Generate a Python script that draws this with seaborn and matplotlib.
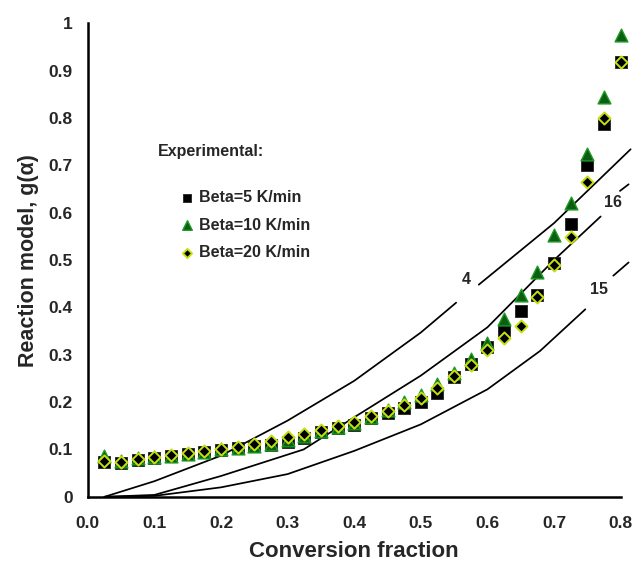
import matplotlib
matplotlib.use("Agg")
import matplotlib.pyplot as plt
import seaborn as sns
import pandas as pd

# Conversion fraction at which g(alpha) was evaluated
alpha = [0.025, 0.05, 0.075, 0.1, 0.125, 0.15, 0.175, 0.2, 0.225, 0.25,
         0.275, 0.3, 0.325, 0.35, 0.375, 0.4, 0.425, 0.45, 0.475, 0.5,
         0.525, 0.55, 0.575, 0.6, 0.625, 0.65, 0.675, 0.7, 0.725, 0.75,
         0.775, 0.8]

# Experimental g(alpha) at three heating rates
beta5 = [0.073, 0.071, 0.078, 0.083, 0.086, 0.091, 0.095, 0.099, 0.103, 0.107,
         0.110, 0.116, 0.124, 0.137, 0.146, 0.152, 0.166, 0.176, 0.188, 0.200,
         0.220, 0.252, 0.280, 0.317, 0.353, 0.393, 0.426, 0.494, 0.576, 0.700,
         0.787, 0.918]
beta10 = [0.086, 0.075, 0.081, 0.084, 0.087, 0.091, 0.095, 0.100, 0.104, 0.108,
          0.112, 0.121, 0.128, 0.139, 0.147, 0.156, 0.168, 0.183, 0.200, 0.216,
          0.238, 0.262, 0.292, 0.324, 0.375, 0.426, 0.475, 0.552, 0.620, 0.723,
          0.845, 0.975]
beta20 = [0.075, 0.073, 0.080, 0.084, 0.088, 0.093, 0.096, 0.100, 0.106, 0.111,
          0.117, 0.127, 0.132, 0.142, 0.149, 0.158, 0.170, 0.182, 0.194, 0.208,
          0.230, 0.255, 0.278, 0.311, 0.336, 0.361, 0.421, 0.489, 0.549, 0.665,
          0.799, 0.918]
series_labels = ["Beta=5 K/min", "Beta=10 K/min", "Beta=20 K/min"]

# Theoretical model curves (each split in two pieces around its label)
model4_a_x = [0.025, 0.1, 0.2, 0.3, 0.4, 0.5, 0.553]
model4_a_y = [0.0, 0.033, 0.087, 0.161, 0.245, 0.347, 0.410]
model4_b_x = [0.587, 0.7, 0.815]
model4_b_y = [0.448, 0.578, 0.734]

model16_a_x = [0.025, 0.1, 0.2, 0.324, 0.4, 0.5, 0.6, 0.7, 0.77]
model16_a_y = [0.0, 0.004, 0.044, 0.100, 0.168, 0.256, 0.358, 0.500, 0.592]
model16_b_x = [0.799, 0.812]
model16_b_y = [0.646, 0.660]

model15_a_x = [0.025, 0.1, 0.2, 0.3, 0.4, 0.5, 0.6, 0.679, 0.747]
model15_a_y = [0.0, 0.002, 0.020, 0.048, 0.097, 0.153, 0.227, 0.308, 0.396]
model15_b_x = [0.789, 0.812]
model15_b_y = [0.467, 0.495]

model_labels = ["4", "16", "15"]

x_ticks = [0.0, 0.1, 0.2, 0.3, 0.4, 0.5, 0.6, 0.7, 0.8]
x_tick_labels = ["0.0", "0.1", "0.2", "0.3", "0.4", "0.5", "0.6", "0.7", "0.8"]
y_ticks = [0, 0.1, 0.2, 0.3, 0.4, 0.5, 0.6, 0.7, 0.8, 0.9, 1.0]
y_tick_labels = ["0", "0.1", "0.2", "0.3", "0.4", "0.5", "0.6", "0.7", "0.8", "0.9", "1"]

sns.set_style("white")
plt.rcParams["font.family"] = ["Liberation Sans", "DejaVu Sans"]
plt.rcParams["font.weight"] = "bold"

fig = plt.figure(figsize=(6.32, 5.62), dpi=100)
ax = fig.add_axes([0.139, 0.116, 0.843, 0.8425])

# model curves
line_kw = dict(color="black", linewidth=1.25, estimator=None, sort=False,
               clip_on=False, legend=False)
for xs, ys in [(model4_a_x, model4_a_y), (model4_b_x, model4_b_y),
               (model16_a_x, model16_a_y), (model16_b_x, model16_b_y),
               (model15_a_x, model15_a_y), (model15_b_x, model15_b_y)]:
    sns.lineplot(x=xs, y=ys, ax=ax, **line_kw)

ax.text(0.568, 0.460, model_labels[0], fontsize=11.5, fontweight="bold",
        ha="center", va="center")
ax.text(0.788, 0.622, model_labels[1], fontsize=11.5, fontweight="bold",
        ha="center", va="center")
ax.text(0.768, 0.438, model_labels[2], fontsize=11.5, fontweight="bold",
        ha="center", va="center")

# experimental points
df = pd.DataFrame({"alpha": alpha, "b5": beta5, "b10": beta10, "b20": beta20})
sns.scatterplot(data=df, x="alpha", y="b5", ax=ax, marker="s", s=72,
                color="black", edgecolor="#222222", linewidth=0.6,
                label=series_labels[0], zorder=3, clip_on=False)
sns.scatterplot(data=df, x="alpha", y="b10", ax=ax, marker="^", s=85,
                color="#0b5e12", edgecolor="#1f9a24", linewidth=1.0,
                label=series_labels[1], zorder=4, clip_on=False)
sns.scatterplot(data=df, x="alpha", y="b20", ax=ax, marker="D", s=38,
                color="black", edgecolor="#c4e010", linewidth=1.4,
                label=series_labels[2], zorder=5, clip_on=False)

ax.set_xlim(0, 0.8)
ax.set_ylim(0, 1.0)
ax.set_xticks(x_ticks)
ax.set_xticklabels(x_tick_labels)
ax.set_yticks(y_ticks)
ax.set_yticklabels(y_tick_labels)
ax.tick_params(axis="both", direction="out", length=5, width=1.6,
               labelsize=12.5, color="black")
ax.tick_params(axis="x", pad=9)
ax.tick_params(axis="y", pad=6)
for lab in ax.get_xticklabels() + ax.get_yticklabels():
    lab.set_fontweight("bold")

for side in ["top", "right"]:
    ax.spines[side].set_visible(False)
for side in ["left", "bottom"]:
    ax.spines[side].set_linewidth(1.8)
    ax.spines[side].set_color("black")

ax.set_xlabel("Conversion fraction", fontsize=16, fontweight="bold", labelpad=7)
ax.set_ylabel("Reaction model, g(\u03b1)", fontsize=15.5, fontweight="bold", labelpad=7)

ax.text(0.105, 0.730, "Experimental:", fontsize=11.5, fontweight="bold",
        ha="left", va="center", transform=ax.transData)
leg = ax.legend(loc="upper left", bbox_to_anchor=(0.163, 0.662), frameon=False,
                fontsize=11.5, handlelength=0.8, handletextpad=0.35,
                labelspacing=0.8, markerscale=0.75, borderaxespad=0)
for t in leg.get_texts():
    t.set_fontweight("bold")

fig.savefig("out.png", dpi=100, facecolor="white")
